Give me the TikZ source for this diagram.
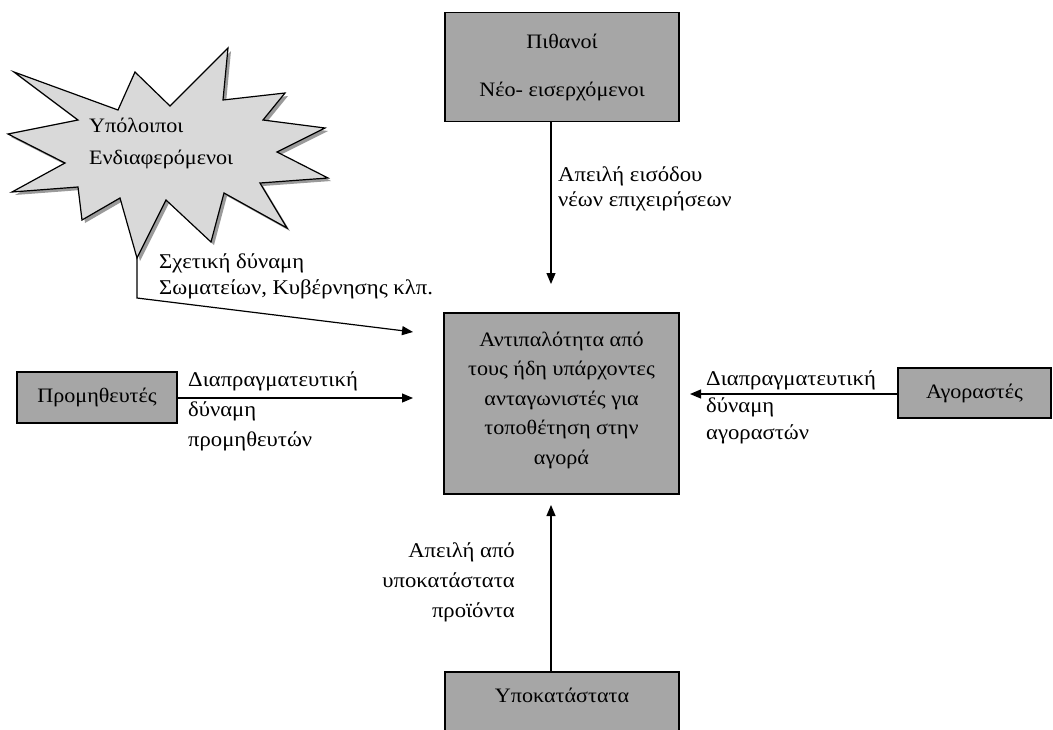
\documentclass[tikz,border=0pt]{standalone}
\usepackage{fontspec}
\setmainfont[FakeStretch=1.08]{Liberation Serif}
\usetikzlibrary{arrows.meta}
\definecolor{boxgray}{HTML}{A6A6A6}
\definecolor{stargray}{HTML}{D9D9D9}
\definecolor{shadowgray}{HTML}{9A9A9A}
\begin{document}
\begin{tikzpicture}[x=1pt,y=-1pt,
  box/.style={draw=black, line width=1.3pt, fill=boxgray, inner sep=0pt, align=center},
  arr/.style={-{Triangle[length=11pt,width=9pt]}, line width=1.2pt},
  lbl/.style={inner sep=0pt, anchor=north west, align=left},
  lblr/.style={inner sep=0pt, anchor=north east, align=right},
]
\useasboundingbox (0,0) rectangle (1053,729);
\fill[white] (0,0) rectangle (1053,729);

% star shape (explosion)
\fill[shadowgray] [shift={(3,3)}] (14,72) -- (118,110) -- (135,72) -- (170,106) -- (228,48) -- (223,100) -- (285,93) -- (263,120) -- (325,128) -- (277,152) -- (328,178) -- (260,183) -- (287,228) -- (224,193) -- (211,242) -- (166,200) -- (137,258) -- (120,198) -- (82,220) -- (78,187) -- (12,192) -- (65,163) -- (8,134) -- (78,120) -- cycle;
\draw[fill=stargray, line width=1.2pt, line join=miter] (14,72) -- (118,110) -- (135,72) -- (170,106) -- (228,48) -- (223,100) -- (285,93) -- (263,120) -- (325,128) -- (277,152) -- (328,178) -- (260,183) -- (287,228) -- (224,193) -- (211,242) -- (166,200) -- (137,258) -- (120,198) -- (82,220) -- (78,187) -- (12,192) -- (65,163) -- (8,134) -- (78,120) -- cycle;
\coordinate (startip) at (137,258);
\coordinate (starbend) at (137,298);
\node[lbl, font=\fontsize{20.5}{32}\selectfont] (startext) at (89,118) {Υπόλοιποι\\Ενδιαφερόμενοι};

% boxes
\node[box, minimum width=234pt, minimum height=109pt, font=\fontsize{20.5}{48}\selectfont] (entrants) at (562,67) {Πιθανοί\\Νέο- εισερχόμενοι};
\node[box, minimum width=235pt, minimum height=181pt, font=\fontsize{20.5}{29.5}\selectfont] (rival) at (561.5,403.5) {\raisebox{4pt}[\height][\depth]{\begin{tabular}{@{}c@{}}Αντιπαλότητα από\\τους ήδη υπάρχοντες\\ανταγωνιστές για\\τοποθέτηση στην\\αγορά\end{tabular}}};
\node[box, minimum width=160pt, minimum height=51pt, font=\fontsize{20.5}{24}\selectfont] (suppliers) at (97,397.5) {Προμηθευτές};
\node[box, minimum width=153pt, minimum height=50pt, font=\fontsize{20.5}{24}\selectfont] (buyers) at (974.5,393) {Αγοραστές};
\node[box, minimum width=234pt, minimum height=88pt, text height=14pt, text depth=42pt, font=\fontsize{20.5}{24}\selectfont] (substitutes) at (562,716) {Υποκατάστατα};

% arrow end points
\coordinate (endtop) at (551,284);
\coordinate (endstar) at (413,332);
\coordinate (endsup) at (413,398);
\coordinate (endbuy) at (690,394);
\coordinate (endsub) at (551,505);

% connectors
\draw[arr] (entrants.south -| endtop) -- (endtop);
\draw[arr] (startip) -- (starbend) -- (endstar);
\draw[arr] (suppliers.east |- endsup) -- (endsup);
\draw[arr] (buyers.west |- endbuy) -- (endbuy);
\draw[arr] (substitutes.north -| endsub) -- (endsub);

% labels
\node[lbl, font=\fontsize{21}{25}\selectfont] (lbltop) at (558,166) {Απειλή εισόδου\\νέων επιχειρήσεων};
\node[lbl, font=\fontsize{21}{26}\selectfont] (lblstar) at (159,253) {Σχετική δύναμη\\Σωματείων, Κυβέρνησης κλπ.};
\node[lbl, font=\fontsize{21}{30}\selectfont] (lblsup) at (188,371) {Διαπραγματευτική\\δύναμη\\προμηθευτών};
\node[lbl, font=\fontsize{21}{27}\selectfont] (lblbuy) at (706,370) {Διαπραγματευτική\\δύναμη\\αγοραστών};
\node[lblr, font=\fontsize{21}{30}\selectfont] (lblsub) at (515,542) {Απειλή από\\υποκατάστατα\\προϊόντα};
\end{tikzpicture}
\end{document}
